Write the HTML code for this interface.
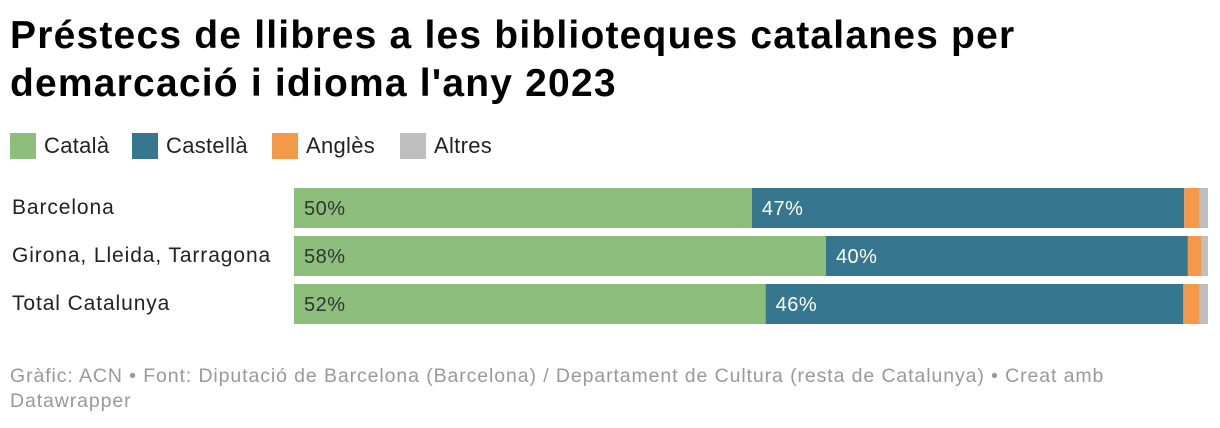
<!DOCTYPE html>
<html><head><meta charset="utf-8"><style>
body{margin:0;width:1220px;height:428px;background:#fff;font-family:"Liberation Sans",sans-serif;position:relative;overflow:hidden}
h1{position:absolute;left:10px;top:12px;margin:0;font-size:39px;line-height:48px;font-weight:bold;color:#000;letter-spacing:1.2px;white-space:nowrap}
.leg{position:absolute;top:133px;font-size:22px;color:#222;display:flex;align-items:center;letter-spacing:0.3px}
.leg span.sw{display:inline-block;width:26px;height:26px;margin-right:8px}
.lab{position:absolute;left:12px;font-size:21px;color:#222;letter-spacing:0.9px}
.foot{position:absolute;left:10px;top:364px;font-size:19.5px;line-height:25px;color:#999;width:1200px;letter-spacing:0.9px;white-space:nowrap}
</style></head><body>
<h1>Préstecs de llibres a les biblioteques catalanes per<br>demarcació i idioma l'any 2023</h1>
<div class="leg" style="left:10px"><span class="sw" style="background:#8dbe7c"></span>Català</div>
<div class="leg" style="left:132px"><span class="sw" style="background:#36778f"></span>Castellà</div>
<div class="leg" style="left:272px"><span class="sw" style="background:#f39949"></span>Anglès</div>
<div class="leg" style="left:400px"><span class="sw" style="background:#bfbfbf"></span>Altres</div>
<svg id="chart" width="1220" height="428" style="position:absolute;left:0;top:0"></svg>
<div class="foot">Gràfic: ACN • Font: Diputació de Barcelona (Barcelona) / Departament de Cultura (resta de Catalunya) • Creat amb<br>Datawrapper</div>
<script>
const categories=["Barcelona","Girona, Lleida, Tarragona","Total Catalunya"];
const catala=[50.1,58.2,51.6];
const castella=[47.3,39.6,45.7];
const angles=[1.7,1.5,1.8];
const altres=[0.9,0.7,0.9];
const series=[{v:catala,c:"#8dbe7c",t:"#333",n:"catala"},{v:castella,c:"#36778f",t:"#fff",n:"castella"},{v:angles,c:"#f39949",n:"angles"},{v:altres,c:"#bfbfbf",n:"altres"}];
const svg=document.getElementById('chart');
const x0=294,W=914,y0=188,step=48,bh=40;
const xs=v=>v/100*W;
const NS="http://www.w3.org/2000/svg";
categories.forEach((cat,i)=>{
  const y=y0+i*step;
  const l=document.createElement('div');
  l.className='lab';l.style.top=(y+8)+'px';l.textContent=cat;
  
  
  document.body.appendChild(l);
  let acc=0;
  series.forEach(s=>{
    const v=s.v[i];
    const r=document.createElementNS(NS,'rect');
    r.setAttribute('x',x0+xs(acc));r.setAttribute('y',y);
    r.setAttribute('width',xs(v));r.setAttribute('height',bh);r.setAttribute('fill',s.c);
    
    
    svg.appendChild(r);
    if(s.t){
      const t=document.createElementNS(NS,'text');
      t.setAttribute('x',x0+xs(acc)+10);t.setAttribute('y',y+27);
      t.setAttribute('fill',s.t);t.setAttribute('font-size','20');
      t.setAttribute('letter-spacing','0.5');
      t.setAttribute('font-family','Liberation Sans, sans-serif');
      t.textContent=Math.round(v)+'%';
      
      
      svg.appendChild(t);
    }
    acc+=v;
  });
});
</script>
</body></html>
